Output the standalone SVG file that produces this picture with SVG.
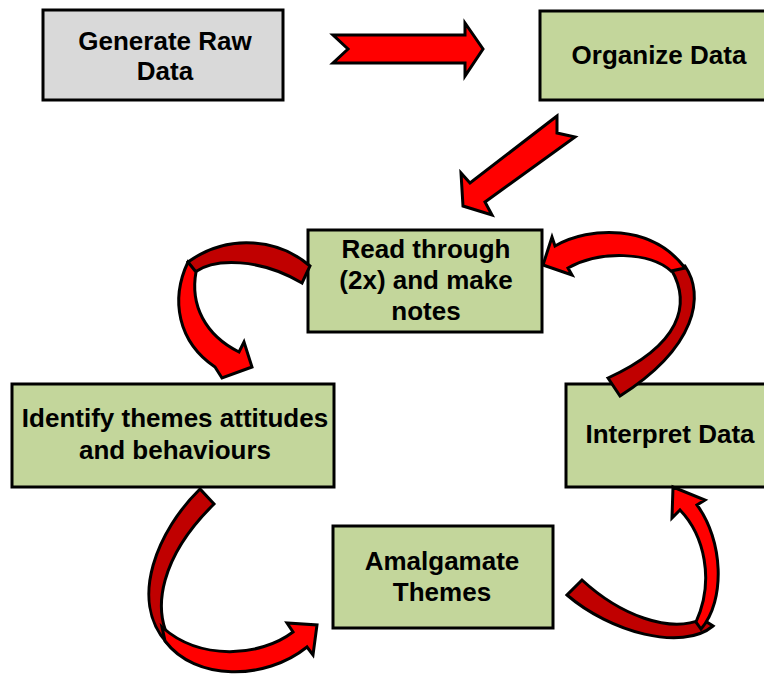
<svg xmlns="http://www.w3.org/2000/svg" width="764" height="675" viewBox="0 0 764 675">
<style>
.box{stroke:#000;stroke-width:3}
.green{fill:#C3D69B}
.gray{fill:#D9D9D9}
.lbl{font-family:"Liberation Sans",Arial,sans-serif;font-weight:bold;font-size:26px;fill:#000;text-anchor:middle}
.red{fill:#FF0000;stroke:#000;stroke-width:3;stroke-linejoin:miter}
.dark{fill:#C00000;stroke:#000;stroke-width:3;stroke-linejoin:miter}
</style>
<rect width="764" height="675" fill="#fff"/>
<g id="node-generate">
<rect class="box gray" x="43" y="10" width="240" height="90"/>
<text class="lbl" x="165" y="50">Generate Raw</text>
<text class="lbl" x="165" y="80">Data</text>
</g>
<g id="node-organize">
<rect class="box green" x="540" y="11" width="240" height="89"/>
<text class="lbl" x="659" y="64">Organize Data</text>
</g>
<g id="node-read">
<rect class="box green" x="308" y="230" width="234" height="102"/>
<text class="lbl" x="426" y="258">Read through</text>
<text class="lbl" x="426" y="289">(2x) and make</text>
<text class="lbl" x="426" y="320">notes</text>
</g>
<g id="node-identify">
<rect class="box green" x="12" y="384" width="322" height="103"/>
<text class="lbl" x="175" y="427">Identify themes attitudes</text>
<text class="lbl" x="175" y="459">and behaviours</text>
</g>
<g id="node-interpret">
<rect class="box green" x="566" y="384" width="212" height="103"/>
<text class="lbl" x="670" y="443">Interpret Data</text>
</g>
<g id="node-amalgamate">
<rect class="box green" x="333" y="526" width="220" height="102"/>
<text class="lbl" x="442" y="570">Amalgamate</text>
<text class="lbl" x="442" y="601">Themes</text>
</g>
<g id="connectors">
<polygon class="red" points="333,35 465,35 465,23 483,49 465,76 465,63 333,63 348,49"/>
<polygon class="red" points="557,116 470,183 461,173 463,206 492,215 485,202 575,137 557,133"/>
<path class="dark" d="M310,266 C280,240 230,232 188,262 L195,272 C215,258 260,258 302,283 Z"/>
<path class="red" d="M188,262 C170,300 178,342 215,367 L222,378 L252,367 L244,342 L239,352 C205,335 190,305 196,272 Z"/>
<path class="dark" d="M685,266 C705,295 697,347 620,396 L608,378 C680,345 692,305 671,269 Z"/>
<path class="red" d="M555,246 C590,226 652,224 685,268 L671,271 C650,252 600,250 568,268 L572,275 L543,265 L552,237 Z"/>
<path class="dark" d="M200,489 C158,530 128,600 167,643 L177,651 C145,610 165,552 214,504 Z"/>
<path class="red" d="M165,641 C195,681 265,681 307,647 L313,655 L317,625 L287,623 L293,632 C260,657 200,661 162,627 Z"/>
<path class="dark" d="M567,595 C610,632 682,652 713,626 L702,619 C670,634 620,615 582,580 Z"/>
<path class="red" d="M701,629 C726,600 723,540 697,505 L705,500 L673,487 L672,518 L680,510 C704,535 715,580 696,622 Z"/>
</g>
</svg>
